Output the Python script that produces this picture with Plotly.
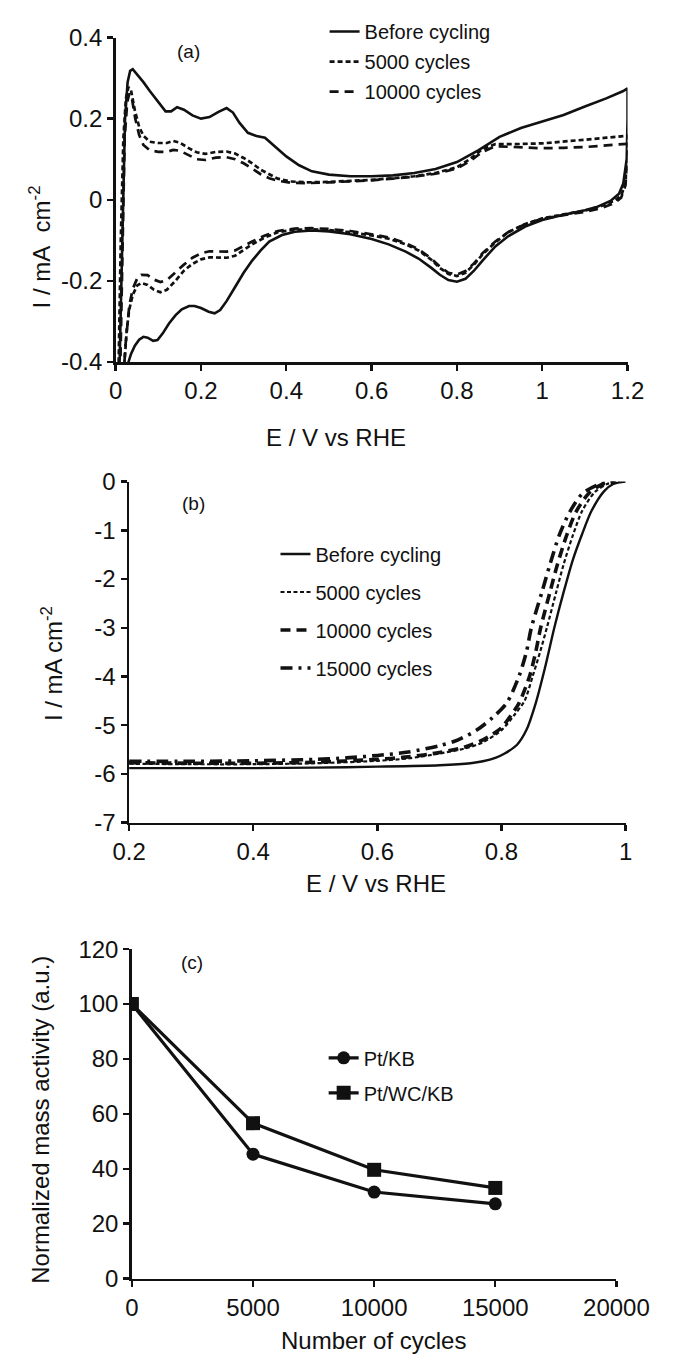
import plotly.graph_objects as go

# ---------------- (a) cyclic voltammograms ----------------
cv_before_E = [0.008, 0.015, 0.022, 0.028, 0.034, 0.04, 0.05, 0.065, 0.08, 0.1, 0.117, 0.13, 0.144, 0.16,
               0.18, 0.2, 0.22, 0.24, 0.26, 0.275, 0.29, 0.31, 0.33, 0.35, 0.37, 0.4, 0.43, 0.46, 0.5,
               0.55, 0.6, 0.65, 0.7, 0.75, 0.8, 0.85, 0.9, 0.95, 1.0, 1.05, 1.1, 1.15, 1.19, 1.2,
               1.2, 1.198, 1.19, 1.18, 1.16, 1.13, 1.1, 1.05, 1.0, 0.96, 0.92, 0.89, 0.86, 0.84, 0.82,
               0.8, 0.78, 0.76, 0.74, 0.71, 0.68, 0.64, 0.6, 0.55, 0.5, 0.46, 0.42, 0.39, 0.36, 0.34,
               0.32, 0.3, 0.28, 0.26, 0.245, 0.232, 0.218, 0.2, 0.185, 0.172, 0.155, 0.14, 0.125, 0.11,
               0.098, 0.088, 0.075, 0.065, 0.055, 0.045, 0.036, 0.03, 0.025, 0.02]
cv_before_I = [-0.46, -0.1, 0.2, 0.29, 0.318, 0.322, 0.31, 0.29, 0.268, 0.24, 0.218, 0.218, 0.228, 0.222,
               0.208, 0.2, 0.204, 0.216, 0.226, 0.215, 0.19, 0.165, 0.157, 0.153, 0.135, 0.107, 0.085,
               0.07, 0.062, 0.058, 0.058, 0.06, 0.066, 0.076, 0.093, 0.122, 0.155, 0.177, 0.193, 0.209,
               0.23, 0.25, 0.268, 0.275,
               0.2, 0.1, 0.04, 0.015, -0.003, -0.017, -0.026, -0.037, -0.05, -0.066, -0.09, -0.115,
               -0.15, -0.175, -0.195, -0.202, -0.198, -0.185, -0.168, -0.145, -0.128, -0.11, -0.097,
               -0.085, -0.078, -0.076, -0.079, -0.087, -0.103, -0.125, -0.15, -0.18, -0.215, -0.25,
               -0.272, -0.28, -0.276, -0.267, -0.262, -0.262, -0.27, -0.285, -0.305, -0.33, -0.346,
               -0.348, -0.34, -0.338, -0.345, -0.36, -0.38, -0.4, -0.43, -0.46]

cv_5k_E = [0.006, 0.012, 0.018, 0.024, 0.03, 0.036, 0.045, 0.055, 0.065, 0.08, 0.1, 0.12, 0.135, 0.15,
           0.17, 0.19, 0.21, 0.235, 0.26, 0.28, 0.3, 0.32, 0.34, 0.36, 0.38, 0.41, 0.45, 0.5, 0.55, 0.6,
           0.65, 0.7, 0.75, 0.8, 0.83, 0.86, 0.89, 0.93, 1.0, 1.05, 1.1, 1.15, 1.2,
           1.2, 1.195, 1.185, 1.17, 1.14, 1.1, 1.05, 1.0, 0.96, 0.92, 0.89, 0.86, 0.84, 0.82, 0.8,
           0.78, 0.76, 0.74, 0.71, 0.68, 0.64, 0.6, 0.55, 0.5, 0.46, 0.42, 0.38, 0.35, 0.32, 0.3,
           0.28, 0.26, 0.24, 0.22, 0.2, 0.18, 0.16, 0.14, 0.12, 0.105, 0.09, 0.075, 0.06, 0.05, 0.04,
           0.032, 0.026, 0.021, 0.017]
cv_5k_I = [-0.46, -0.1, 0.15, 0.25, 0.278, 0.27, 0.22, 0.18, 0.158, 0.143, 0.14, 0.14, 0.145, 0.141,
           0.128, 0.117, 0.113, 0.118, 0.119, 0.114, 0.103, 0.09, 0.074, 0.062, 0.052, 0.045, 0.043,
           0.044, 0.046, 0.049, 0.053, 0.058, 0.066, 0.08, 0.1, 0.125, 0.137, 0.137, 0.139, 0.143,
           0.148, 0.153, 0.158,
           0.1, 0.04, 0.01, -0.002, -0.015, -0.027, -0.036, -0.046, -0.06, -0.08, -0.105, -0.135,
           -0.16, -0.18, -0.188, -0.183, -0.168, -0.148, -0.125, -0.11, -0.096, -0.088, -0.08,
           -0.075, -0.073, -0.074, -0.08, -0.093, -0.11, -0.125, -0.138, -0.143, -0.142, -0.142,
           -0.147, -0.158, -0.175, -0.2, -0.222, -0.228, -0.222, -0.21, -0.205, -0.212, -0.235,
           -0.27, -0.32, -0.38, -0.46]

cv_10k_E = [0.01, 0.016, 0.021, 0.027, 0.032, 0.038, 0.046, 0.055, 0.065, 0.08, 0.1, 0.12, 0.135, 0.15,
            0.17, 0.19, 0.21, 0.235, 0.26, 0.28, 0.3, 0.32, 0.34, 0.36, 0.38, 0.41, 0.45, 0.5, 0.55,
            0.6, 0.65, 0.7, 0.75, 0.8, 0.83, 0.86, 0.89, 0.93, 1.0, 1.05, 1.1, 1.15, 1.2,
            1.2, 1.195, 1.185, 1.17, 1.14, 1.1, 1.05, 1.0, 0.96, 0.92, 0.89, 0.86, 0.84, 0.82, 0.8,
            0.78, 0.76, 0.74, 0.71, 0.68, 0.64, 0.6, 0.55, 0.5, 0.46, 0.42, 0.38, 0.35, 0.32, 0.3,
            0.28, 0.26, 0.24, 0.22, 0.2, 0.18, 0.16, 0.14, 0.12, 0.105, 0.09, 0.075, 0.06, 0.05,
            0.04, 0.032, 0.027, 0.022, 0.018]
cv_10k_I = [-0.46, -0.1, 0.15, 0.24, 0.262, 0.25, 0.2, 0.16, 0.135, 0.122, 0.118, 0.118, 0.123, 0.121,
            0.11, 0.1, 0.098, 0.104, 0.105, 0.1, 0.09, 0.077, 0.063, 0.053, 0.047, 0.042, 0.041,
            0.043, 0.045, 0.048, 0.052, 0.057, 0.064, 0.077, 0.095, 0.118, 0.132, 0.13, 0.127,
            0.128, 0.13, 0.134, 0.138,
            0.09, 0.035, 0.005, -0.008, -0.02, -0.03, -0.038, -0.047, -0.06, -0.08, -0.103, -0.132,
            -0.157, -0.176, -0.184, -0.18, -0.165, -0.145, -0.122, -0.107, -0.093, -0.085, -0.077,
            -0.072, -0.07, -0.071, -0.077, -0.088, -0.103, -0.115, -0.125, -0.128, -0.127, -0.127,
            -0.132, -0.143, -0.16, -0.18, -0.198, -0.203, -0.197, -0.186, -0.185, -0.195, -0.22,
            -0.26, -0.31, -0.37, -0.46]

# ---------------- (b) ORR polarisation curves ----------------
lsv_before_E = [0.2, 0.3, 0.4, 0.5, 0.6, 0.7, 0.75, 0.77, 0.79, 0.805, 0.825, 0.84, 0.855, 0.87,
                0.885, 0.9, 0.915, 0.93, 0.945, 0.965, 0.98, 1.0]
lsv_before_I = [-5.88, -5.88, -5.88, -5.87, -5.85, -5.82, -5.78, -5.74, -5.67, -5.58, -5.4, -5.1,
                -4.55, -3.82, -3.0, -2.27, -1.6, -1.07, -0.6, -0.2, -0.05, 0.0]

lsv_5k_E = [0.2, 0.3, 0.4, 0.5, 0.6, 0.65, 0.7, 0.74, 0.77, 0.8, 0.82, 0.837, 0.85, 0.862, 0.873,
            0.888, 0.9, 0.915, 0.93, 0.95, 0.97, 0.99]
lsv_5k_I = [-5.79, -5.8, -5.8, -5.78, -5.73, -5.68, -5.58, -5.48, -5.35, -5.1, -4.8, -4.5, -4.0,
            -3.5, -3.0, -2.27, -1.7, -1.1, -0.6, -0.22, -0.05, 0.0]

lsv_10k_E = [0.2, 0.3, 0.4, 0.5, 0.6, 0.65, 0.7, 0.74, 0.77, 0.8, 0.815, 0.828, 0.845, 0.855, 0.863,
             0.878, 0.89, 0.905, 0.92, 0.94, 0.96, 0.985]
lsv_10k_I = [-5.77, -5.78, -5.78, -5.76, -5.7, -5.65, -5.56, -5.45, -5.3, -5.05, -4.8, -4.55, -4.0,
             -3.5, -3.0, -2.27, -1.7, -1.1, -0.62, -0.25, -0.07, 0.0]

lsv_15k_E = [0.2, 0.3, 0.4, 0.5, 0.55, 0.6, 0.65, 0.7, 0.73, 0.76, 0.785, 0.808, 0.828, 0.84, 0.848,
             0.865, 0.878, 0.893, 0.91, 0.93, 0.955, 0.98]
lsv_15k_I = [-5.74, -5.74, -5.73, -5.7, -5.67, -5.62, -5.55, -5.42, -5.3, -5.1, -4.85, -4.55, -4.0,
             -3.5, -3.0, -2.27, -1.7, -1.1, -0.62, -0.25, -0.07, 0.0]

# ---------------- (c) normalised mass activity ----------------
cycles = [0, 5000, 10000, 15000]
ma_pt_kb = [100, 45.3, 31.5, 27.2]
ma_pt_wc_kb = [100, 56.6, 39.6, 33.0]

a_xticks = [0, 0.2, 0.4, 0.6, 0.8, 1.0, 1.2]
a_xtick_text = ["0", "0.2", "0.4", "0.6", "0.8", "1", "1.2"]
a_yticks = [-0.4, -0.2, 0, 0.2, 0.4]
a_ytick_text = ["-0.4", "-0.2", "0", "0.2", "0.4"]
b_xticks = [0.2, 0.4, 0.6, 0.8, 1.0]
b_xtick_text = ["0.2", "0.4", "0.6", "0.8", "1"]
b_yticks = [0, -1, -2, -3, -4, -5, -6, -7]
b_ytick_text = ["0", "-1", "-2", "-3", "-4", "-5", "-6", "-7"]
c_xticks = [0, 5000, 10000, 15000, 20000]
c_xtick_text = ["0", "5000", "10000", "15000", "20000"]
c_yticks = [0, 20, 40, 60, 80, 100, 120]
c_ytick_text = ["0", "20", "40", "60", "80", "100", "120"]

W, H = 680, 1366
FONT = "Liberation Sans, Arial, sans-serif"
INK = "#111111"


def px_x(p):
    return p / W


def px_y(p):
    return 1 - p / H


fig = go.Figure()

# panel (a)
fig.add_trace(go.Scatter(x=cv_before_E, y=cv_before_I, mode="lines", name="Before cycling",
                         line=dict(color=INK, width=2.6), xaxis="x", yaxis="y", legend="legend",
                         legendgroup="a1"))
fig.add_trace(go.Scatter(x=cv_5k_E, y=cv_5k_I, mode="lines", name="5000 cycles",
                         line=dict(color=INK, width=2.7, dash="5px,3px"), xaxis="x", yaxis="y",
                         legend="legend", legendgroup="a2"))
fig.add_trace(go.Scatter(x=cv_10k_E, y=cv_10k_I, mode="lines", name="10000 cycles",
                         line=dict(color=INK, width=2.7, dash="9px,6px"), xaxis="x", yaxis="y",
                         legend="legend", legendgroup="a3"))

# panel (b)
fig.add_trace(go.Scatter(x=lsv_before_E, y=lsv_before_I, mode="lines", name="Before cycling",
                         line=dict(color=INK, width=2.4, shape="spline", smoothing=0.8),
                         xaxis="x2", yaxis="y2", legend="legend2", legendgroup="b1"))
fig.add_trace(go.Scatter(x=lsv_5k_E, y=lsv_5k_I, mode="lines", name="5000 cycles",
                         line=dict(color=INK, width=2.2, dash="4px,2.5px", shape="spline",
                                   smoothing=0.8),
                         xaxis="x2", yaxis="y2", legend="legend2", legendgroup="b2"))
fig.add_trace(go.Scatter(x=lsv_10k_E, y=lsv_10k_I, mode="lines", name="10000 cycles",
                         line=dict(color=INK, width=3.6, dash="10px,6px", shape="spline",
                                   smoothing=0.8),
                         xaxis="x2", yaxis="y2", legend="legend2", legendgroup="b3"))
fig.add_trace(go.Scatter(x=lsv_15k_E, y=lsv_15k_I, mode="lines", name="15000 cycles",
                         line=dict(color=INK, width=3.6, dash="12px,6px,3px,6px", shape="spline",
                                   smoothing=0.8),
                         xaxis="x2", yaxis="y2", legend="legend2", legendgroup="b4"))

# panel (c)
fig.add_trace(go.Scatter(x=cycles, y=ma_pt_kb, mode="lines+markers", name="Pt/KB",
                         line=dict(color=INK, width=3.2),
                         marker=dict(symbol="circle", size=13, color=INK),
                         xaxis="x3", yaxis="y3", legend="legend3", legendgroup="c1"))
fig.add_trace(go.Scatter(x=cycles, y=ma_pt_wc_kb, mode="lines+markers", name="Pt/WC/KB",
                         line=dict(color=INK, width=3.2),
                         marker=dict(symbol="square", size=14, color=INK),
                         xaxis="x3", yaxis="y3", legend="legend3", legendgroup="c2"))

axis_common = dict(showline=True, linecolor=INK, linewidth=2.6, ticks="outside", ticklen=6,
                   tickwidth=2.4, tickcolor=INK, showgrid=False, zeroline=False,
                   tickfont=dict(family=FONT, size=24, color=INK), fixedrange=True)

legend_common = dict(bgcolor="rgba(0,0,0,0)", borderwidth=0, xanchor="left", yanchor="top",
                     font=dict(family=FONT, size=20, color=INK), traceorder="grouped")

fig.update_layout(
    width=W, height=H,
    margin=dict(l=0, r=0, t=0, b=0),
    paper_bgcolor="white", plot_bgcolor="white",
    showlegend=True,
    xaxis=dict(domain=[px_x(106.5), px_x(659)], range=[0, 1.2], tickvals=a_xticks,
               ticktext=a_xtick_text, anchor="y", **axis_common),
    yaxis=dict(domain=[px_y(355), px_y(24)], range=[-0.4, 0.4], tickvals=a_yticks,
               ticktext=a_ytick_text, anchor="x", **axis_common),
    xaxis2=dict(domain=[px_x(121), px_x(657)], range=[0.2, 1.0], tickvals=b_xticks,
                ticktext=b_xtick_text, anchor="y2", **axis_common),
    yaxis2=dict(domain=[px_y(825), px_y(477)], range=[-7, 0], tickvals=b_yticks,
                ticktext=b_ytick_text, anchor="x2", **axis_common),
    xaxis3=dict(domain=[px_x(124), px_x(647)], range=[0, 20000], tickvals=c_xticks,
                ticktext=c_xtick_text, anchor="y3", **axis_common),
    yaxis3=dict(domain=[px_y(1290), px_y(954)], range=[0, 120], tickvals=c_yticks,
                ticktext=c_ytick_text, anchor="x3", **axis_common),
    legend=dict(x=px_x(332), y=px_y(-2), tracegroupgap=1, **legend_common),
    legend2=dict(x=px_x(279), y=px_y(531), tracegroupgap=9, **legend_common),
    legend3=dict(x=px_x(331), y=px_y(1045), tracegroupgap=6, **legend_common),
)

title_font = dict(family=FONT, size=24, color=INK)
label_font = dict(family=FONT, size=19, color=INK)
annotations = [
    # axis titles
    dict(text="E / V vs RHE", x=px_x(344), y=px_y(432), font=title_font),
    dict(text="E / V vs RHE", x=px_x(388), y=px_y(887), font=title_font),
    dict(text="Number of cycles", x=px_x(385), y=px_y(1353), font=title_font),
    dict(text="I / mA\u00a0\u00a0cm<sup>-2</sup>", x=px_x(25), y=px_y(238), font=title_font,
         textangle=-90),
    dict(text="I / mA cm<sup>-2</sup>", x=px_x(38), y=px_y(663), font=title_font, textangle=-90),
    dict(text="Normalized mass activity (a.u.)", x=px_x(26), y=px_y(1128), font=title_font,
         textangle=-90),
    # panel labels
    dict(text="(a)", x=px_x(185), y=px_y(38), font=label_font),
    dict(text="(b)", x=px_x(190), y=px_y(499), font=label_font),
    dict(text="(c)", x=px_x(189), y=px_y(968), font=label_font),
]
for a in annotations:
    a.update(xref="paper", yref="paper", showarrow=False, xanchor="center", yanchor="middle")
fig.update_layout(annotations=annotations)

fig.write_html("out.html", include_plotlyjs=True, config={"staticPlot": True})
